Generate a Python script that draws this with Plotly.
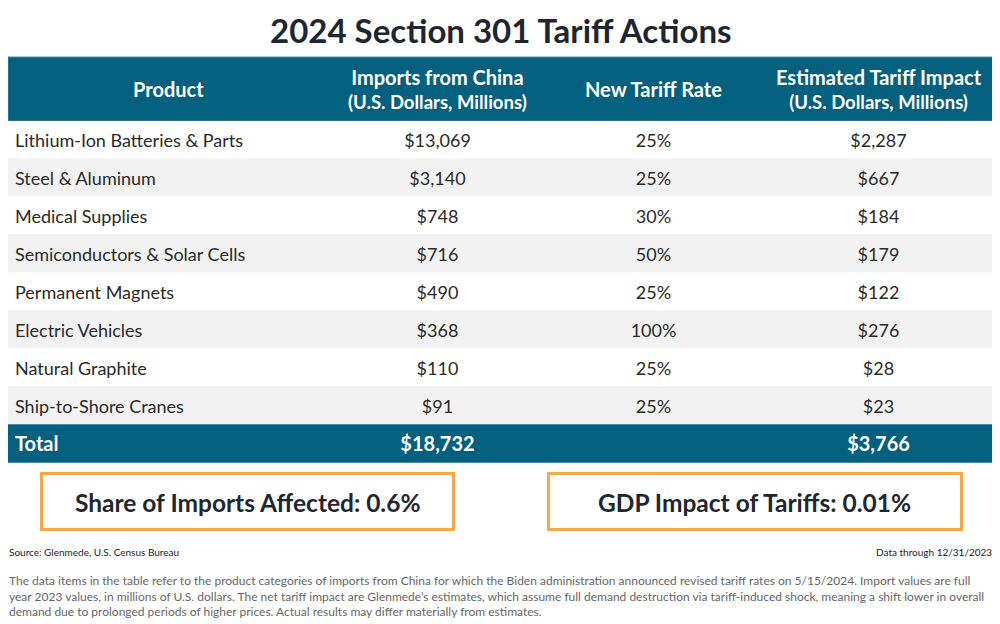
import plotly.graph_objects as go

title = "2024 Section 301 Tariff Actions"
header_line1 = ["Product", "Imports from China", "New Tariff Rate", "Estimated Tariff Impact"]
header_line2 = ["", "(U.S. Dollars, Millions)", "", "(U.S. Dollars, Millions)"]
products = ["Lithium-Ion Batteries & Parts", "Steel & Aluminum", "Medical Supplies",
            "Semiconductors & Solar Cells", "Permanent Magnets", "Electric Vehicles",
            "Natural Graphite", "Ship-to-Shore Cranes"]
imports_musd = [13069, 3140, 748, 716, 490, 368, 110, 91]
tariff_rate_pct = [25, 25, 30, 50, 25, 100, 25, 25]
impact_musd = [2287, 667, 184, 179, 122, 276, 28, 23]
total_label = "Total"
total_imports = 18732
total_impact = 3766
share_of_imports = "Share of Imports Affected: 0.6%"
gdp_impact = "GDP Impact of Tariffs: 0.01%"
source = "Source: Glenmede, U.S. Census Bureau"
data_through = "Data through 12/31/2023"
footnote_lines = [
    "The data items in the table refer to the product categories of imports from China for which the Biden administration announced revised tariff rates on 5/15/2024. Import values are full",
    "year 2023 values, in millions of U.S. dollars. The net tariff impact are Glenmede\u2019s estimates, which assume full demand destruction via tariff-induced shock, meaning a shift lower in overall",
    "demand due to prolonged periods of higher prices. Actual results may differ materially from estimates.",
]

BLUE = "#03607f"
BLUE_EDGE = "#4a8ba7"
GRAY = "#f2f2f2"
TEXT = "#2a2a2a"
DARK = "#1e2630"
ORANGE = "#f5a94a"
FONT = "Lato"

# page has an 8px body margin; figure is sized to fit the window
OFF = 8
W, H = 1000 - OFF, 624 - OFF
def px(x): return (x - OFF) / W
def py(y): return 1 - (y - OFF) / H

TL, TR = 8, 995          # table left/right (reference pixels)
HEAD_T, HEAD_B = 57, 121  # header band
ROWS_B = 463              # bottom of total row
TEXT_SHIFT = 2            # text baseline nudge (pixels down)
col_centers = [168.5, 437.5, 653.5, 878.5]
product_text_x = 15

n = len(products)
cats = products + [total_label]
row_fill = ["white" if i % 2 == 0 else GRAY for i in range(n)] + [BLUE]
row_line = ["rgba(0,0,0,0)"] * n + [BLUE_EDGE]
row_color = [TEXT] * n + ["white"]
row_size = [18] * n + [20]

col_product = products + [f"<b>{total_label}</b>"]
col_imports = [f"${v:,}" for v in imports_musd] + [f"<b>${total_imports:,}</b>"]
col_rate = [f"{v}%" for v in tariff_rate_pct] + [""]
col_impact = [f"${v:,}" for v in impact_musd] + [f"<b>${total_impact:,}</b>"]

fig = go.Figure()
fig.add_trace(go.Bar(
    orientation="h", y=cats, x=[TR - TL] * len(cats), base=TL, width=1,
    marker=dict(color=row_fill, line=dict(color=row_line, width=1)),
    hoverinfo="skip", showlegend=False,
))

def text_trace(xpos, texts, pos):
    return go.Scatter(
        x=[xpos] * len(cats), y=cats, text=texts, mode="text", yaxis="y2",
        textposition=pos, cliponaxis=False,
        textfont=dict(family=FONT, size=row_size, color=row_color),
        hoverinfo="skip", showlegend=False,
    )

fig.add_trace(text_trace(product_text_x, col_product, "middle right"))
fig.add_trace(text_trace(col_centers[1], col_imports, "middle center"))
fig.add_trace(text_trace(col_centers[2], col_rate, "middle center"))
fig.add_trace(text_trace(col_centers[3], col_impact, "middle center"))

annotations = [
    dict(text=f"<b>{title}</b>", x=px(501), y=py(30), xref="paper", yref="paper",
         showarrow=False, font=dict(family=FONT, size=33, color=DARK),
         xanchor="center", yanchor="middle"),
]
for i, (l1, l2) in enumerate(zip(header_line1, header_line2)):
    if l2:
        txt = f"<span style='font-size:20px'><b>{l1}</b></span><br><b>{l2}</b>"
        fsize = 18.5
    else:
        txt = f"<b>{l1}</b>"
        fsize = 20
    annotations.append(dict(
        text=txt, x=(col_centers[i] - TL) / (TR - TL), y=py(89),
        xref="x domain", yref="paper", showarrow=False,
        font=dict(family=FONT, size=fsize, color="white"),
        xanchor="center", yanchor="middle", align="center",
    ))
annotations += [
    dict(text=f"<b>{share_of_imports}</b>", x=px(247), y=py(502), xref="paper", yref="paper",
         showarrow=False, font=dict(family=FONT, size=24.5, color=DARK),
         xanchor="center", yanchor="middle"),
    dict(text=f"<b>{gdp_impact}</b>", x=px(754), y=py(502), xref="paper", yref="paper",
         showarrow=False, font=dict(family=FONT, size=24.5, color=DARK),
         xanchor="center", yanchor="middle"),
    dict(text=source, x=px(7), y=py(552), xref="paper", yref="paper",
         showarrow=False, font=dict(family=FONT, size=10, color="#222"),
         xanchor="left", yanchor="middle"),
    dict(text=data_through, x=px(994), y=py(552), xref="paper", yref="paper",
         showarrow=False, font=dict(family=FONT, size=10, color="#222"),
         xanchor="right", yanchor="middle"),
    dict(text="<br>".join(footnote_lines), x=px(7), y=py(571), xref="paper", yref="paper",
         showarrow=False, font=dict(family=FONT, size=12, color="#666"),
         xanchor="left", yanchor="top", align="left"),
]

shapes = [
    dict(type="rect", xref="paper", yref="paper", x0=px(TL), x1=px(TR), y0=py(HEAD_B), y1=py(HEAD_T),
         line=dict(color=BLUE_EDGE, width=1), fillcolor=BLUE, layer="below"),
    dict(type="rect", xref="paper", yref="paper", x0=px(41.5), x1=px(453.5), y0=py(473.5), y1=py(529.5),
         line=dict(color=ORANGE, width=3), fillcolor="white", layer="below"),
    dict(type="rect", xref="paper", yref="paper", x0=px(548.5), x1=px(961.5), y0=py(473.5), y1=py(529.5),
         line=dict(color=ORANGE, width=3), fillcolor="white", layer="below"),
]

yrange = [len(cats) - 0.5, -0.5]
fig.update_layout(
    width=W, height=H,
    margin=dict(l=0, r=0, t=0, b=0),
    paper_bgcolor="white", plot_bgcolor="rgba(0,0,0,0)",
    annotations=annotations, shapes=shapes,
    font=dict(family=FONT),
    bargap=0,
    xaxis=dict(domain=[px(TL), px(TR)], range=[TL, TR], visible=False, fixedrange=True),
    yaxis=dict(domain=[py(ROWS_B), py(HEAD_B)], type="category", categoryarray=cats,
               categoryorder="array", range=yrange, visible=False, fixedrange=True),
    yaxis2=dict(domain=[py(ROWS_B + TEXT_SHIFT), py(HEAD_B + TEXT_SHIFT)], type="category",
                categoryarray=cats, categoryorder="array", range=yrange, visible=False,
                fixedrange=True, anchor="x"),
)
fig.write_html("out.html", config={"displayModeBar": False})
